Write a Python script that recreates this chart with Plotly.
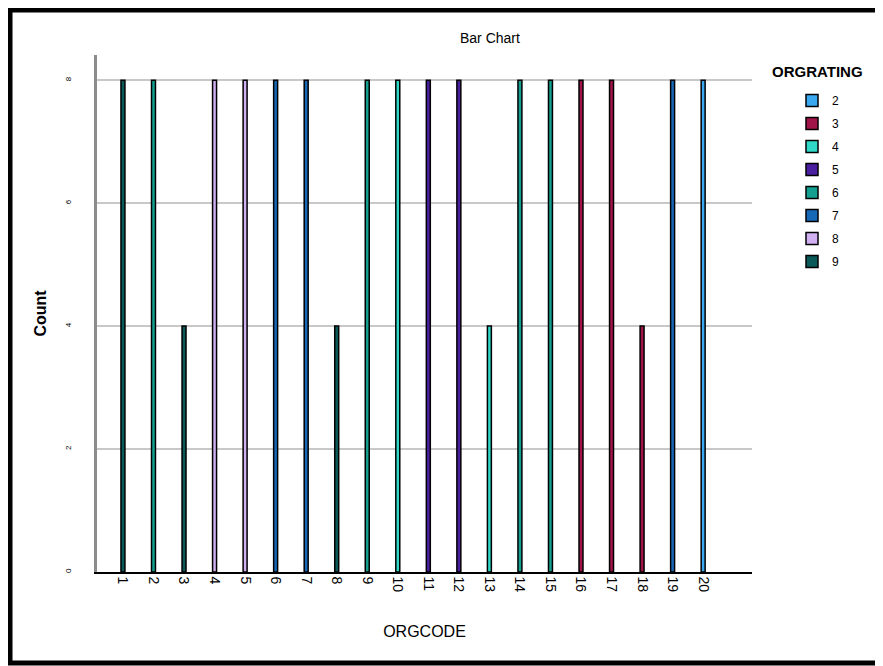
import plotly.graph_objects as go

# page offset of the figure (default body margin)
OFF = 8
W, H = 883 - OFF, 666 - OFF
# desired page-pixel plot area
PL, PR, PT, PB = 97, 752, 55, 572
ML, MT = PL - OFF, PT - OFF
MR, MB = W - (PR - OFF), H - (PB - OFF)

codes = [str(i) for i in range(1, 21)]
code_rating = [9, 6, 9, 8, 8, 7, 7, 9, 6, 4, 5, 5, 4, 6, 6, 3, 3, 3, 7, 2]
code_count = [8, 8, 4, 8, 8, 8, 8, 4, 8, 8, 8, 8, 4, 8, 8, 8, 8, 4, 8, 8]
ratings = [2, 3, 4, 5, 6, 7, 8, 9]
rating_colors = ["#3aa8f0", "#a0144a", "#30d8c8", "#4a1fa0", "#14a090", "#1868b8", "#d0b0f0", "#0a5a5a"]
y_ticks = [0, 2, 4, 6, 8]

fig = go.Figure()
for r, col in zip(ratings, rating_colors):
    xs = [c for c, rr in zip(codes, code_rating) if rr == r]
    ys = [n for n, rr in zip(code_count, code_rating) if rr == r]
    fig.add_trace(go.Bar(
        x=xs, y=ys, name=str(r), width=0.13, legendgroup=str(r),
        marker=dict(color=col, line=dict(color="#000000", width=1.5)),
        showlegend=True,
    ))

pw = PR - PL
ph = PB - PT

def px_x(p):
    return (p - PL) / pw

def px_y(p):
    return 1 - (p - PT) / ph

fig.update_layout(
    width=W, height=H,
    margin=dict(l=ML, r=MR, t=MT, b=MB),
    paper_bgcolor="white", plot_bgcolor="white",
    barmode="overlay",
    font=dict(family="Liberation Sans, Arial, sans-serif", color="#000000"),
    xaxis=dict(
        type="category", categoryorder="array", categoryarray=codes,
        range=[-0.85, 20.6], tickangle=90,
        tickfont=dict(size=14, color="#000000"),
        showline=True, linecolor="#000000", linewidth=1.5,
        showgrid=False, ticks="", zeroline=False,
        title=dict(text="ORGCODE", font=dict(size=16, color="#000000"), standoff=34),
    ),
    yaxis=dict(
        range=[0, 8.41], tickvals=y_ticks, ticktext=[str(v) for v in y_ticks],
        tickangle=-90, tickfont=dict(size=8, color="#000000"),
        ticklabelstandoff=20,
        showline=True, linecolor="#8c8c8c", linewidth=2.5,
        showgrid=True, gridcolor="#c8c8c8", gridwidth=1.5,
        ticks="", zeroline=False,
        title=dict(text="<b>Count</b>", font=dict(size=16, color="#000000"), standoff=14),
    ),
    legend=dict(
        x=px_x(792), y=px_y(86), xanchor="left", yanchor="top",
        font=dict(size=12, color="#000000"), tracegroupgap=4,
        traceorder="grouped", bgcolor="rgba(0,0,0,0)",
    ),
    annotations=[
        dict(text="Bar Chart", x=px_x(490), y=px_y(38), xref="paper", yref="paper",
             showarrow=False, font=dict(size=14, color="#000000"), xanchor="center", yanchor="middle"),
        dict(text="<b>ORGRATING</b>", x=px_x(818), y=px_y(72), xref="paper", yref="paper",
             showarrow=False, font=dict(size=15, color="#000000"), xanchor="center", yanchor="middle"),
    ],
    shapes=[
        dict(type="rect", xref="paper", yref="paper",
             x0=px_x(OFF + 2), x1=px_x(879), y0=px_y(663), y1=px_y(OFF + 2),
             line=dict(color="#000000", width=5), fillcolor="rgba(0,0,0,0)", layer="above"),
    ],
)

fig.write_html("out.html")
